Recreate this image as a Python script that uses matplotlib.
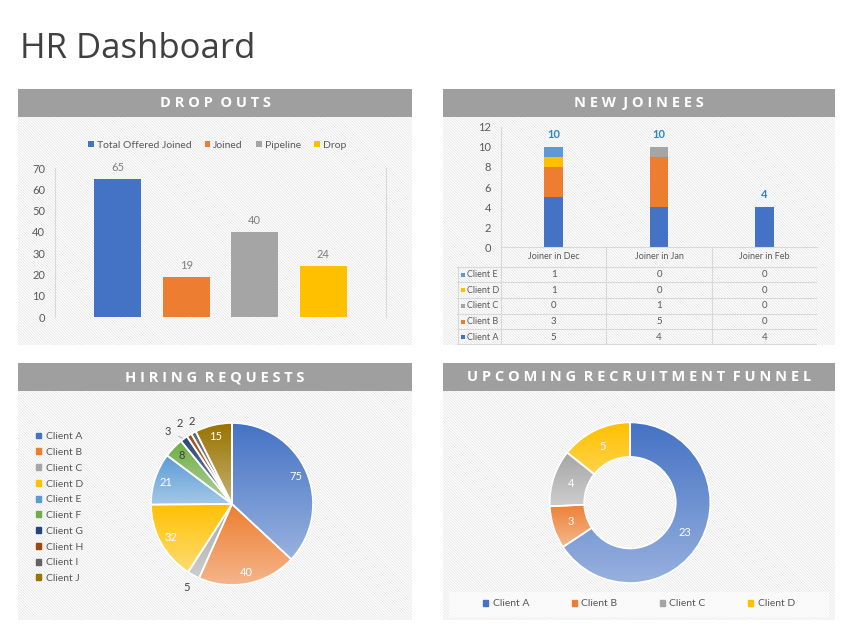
import numpy as np
import matplotlib
matplotlib.use('Agg')
import matplotlib.pyplot as plt
from matplotlib.patches import Rectangle, Patch
from matplotlib.colors import to_rgb

plt.rcParams['font.family'] = ['Lato', 'DejaVu Sans']
plt.rcParams['hatch.linewidth'] = 0.5

# 数据
drop_labels = ['Total Offered Joined', 'Joined', 'Pipeline', 'Drop']
drop_values = [65, 19, 40, 24]

joinee_months = ['Joiner in Dec', 'Joiner in Jan', 'Joiner in Feb']
joinee_clients = ['Client A', 'Client B', 'Client C', 'Client D', 'Client E']
client_a = [5, 4, 4]
client_b = [3, 5, 0]
client_c = [0, 1, 0]
client_d = [1, 0, 0]
client_e = [1, 0, 0]

hiring_labels = ['Client A', 'Client B', 'Client C', 'Client D', 'Client E',
                 'Client F', 'Client G', 'Client H', 'Client I', 'Client J']
hiring_values = [75, 40, 5, 32, 21, 8, 3, 2, 2, 15]

funnel_labels = ['Client A', 'Client B', 'Client C', 'Client D']
funnel_values = [23, 3, 4, 5]

office = ['#4472C4', '#ED7D31', '#A5A5A5', '#FFC000', '#5B9BD5',
          '#70AD47', '#264478', '#9E480E', '#636363', '#997300']
GRAY_TXT = '#595959'
W, H = 853, 640


def box(x0, y0, x1, y1):
    # 像素坐标 -> figure 坐标
    return [x0 / W, 1 - y1 / H, (x1 - x0) / W, (y1 - y0) / H]


def gradient_wedges(ax, wedges, colors, light=0.45):
    # 每个扇区上深下浅的渐变
    for w, c in zip(wedges, colors):
        v = w.get_patch_transform().transform(w.get_path().vertices)
        rgb = np.array(to_rgb(c))
        t = np.linspace(0, 1, 256)[:, None]
        img = (rgb * (1 - t * light) + t * light)[:, None, :]
        im = ax.imshow(img, extent=[v[:, 0].min(), v[:, 0].max(), v[:, 1].min(), v[:, 1].max()],
                       origin='upper', aspect='auto', interpolation='bilinear', zorder=1.5)
        im.set_clip_path(w)
        w.set_facecolor('none')
        w.set_zorder(2)


fig = plt.figure(figsize=(W / 100, H / 100), dpi=100)
fig.text(20 / W, 1 - 58 / H, 'HR Dashboard', fontsize=25, family='Open Sans',
         color='#404040', va='baseline')

#面板背景和标题栏
panels = [(18, 89, 412, 345, 'DROP OUTS'), (443, 89, 835, 345, 'NEW JOINEES'),
          (18, 363, 412, 620, 'HIRING REQUESTS'), (443, 363, 835, 620, 'UPCOMING RECRUITMENT FUNNEL')]
for x0, y0, x1, y1, title in panels:
    bg = fig.add_axes(box(x0, y0 + 28, x1, y1))
    bg.add_patch(Rectangle((0, 0), 1, 1, transform=bg.transAxes, facecolor='white',
                           edgecolor='#e2e2e2', hatch='\\' * 12, linewidth=0))
    bg.axis('off')
    hd = fig.add_axes(box(x0, y0, x1, y0 + 28))
    hd.set_facecolor('#9f9f9f')
    hd.set_xticks([]); hd.set_yticks([])
    for s in hd.spines.values():
        s.set_visible(False)
    spaced = '  '.join(' '.join(word) for word in title.split(' '))
    hd.text(0.5, 0.5, spaced, ha='center', va='center', color='white', fontsize=10.5,
            fontweight='bold', family='Open Sans', transform=hd.transAxes)

#DROP OUTS 柱状图
ax1 = fig.add_axes(box(55, 168, 386, 317))
ax1.set_facecolor('none')
x = np.arange(len(drop_values))
bars = ax1.bar(x, drop_values, width=0.68, color=office[:4])
ax1.bar_label(bars, padding=4, color='#7f7f7f', fontsize=8)
ax1.set_xlim(-0.916, 3.916)
ax1.set_ylim(0, 70)
ax1.set_yticks(range(0, 71, 10))
ax1.set_xticks([])
ax1.tick_params(length=0, labelsize=8, labelcolor=GRAY_TXT, pad=7)
for k in ['top', 'bottom']:
    ax1.spines[k].set_visible(False)
for k in ['left', 'right']:
    ax1.spines[k].set_color('#d9d9d9')
    ax1.spines[k].set_linewidth(0.8)
ax1.legend(bars, drop_labels, ncol=4, loc='center', bbox_to_anchor=(0.49, 1.154),
           frameon=False, fontsize=7.5, handlelength=0.5, handleheight=0.5,
           handletextpad=0.3, columnspacing=1.3, labelcolor=GRAY_TXT)

#NEW JOINEES 堆积柱状图
ax2 = fig.add_axes(box(501, 126.7, 817, 247.3))
ax2.set_facecolor('none')
series = [client_a, client_b, client_c, client_d, client_e]
xm = np.arange(len(joinee_months))
bottom = np.zeros(len(joinee_months))
for vals, col in zip(series, office[:5]):
    ax2.bar(xm, vals, bottom=bottom, width=0.175, color=col)
    bottom += np.array(vals)
for xi, tot in zip(xm, bottom):
    ax2.annotate(f'{int(tot)}', (xi, tot), xytext=(0, 9), textcoords='offset points',
                 ha='center', va='center', fontsize=8, fontweight='bold', color='#2E86C1')
ax2.set_xlim(-0.5, 2.5)
ax2.set_ylim(0, 12)
ax2.set_yticks(range(0, 13, 2))
ax2.set_xticks([])
ax2.tick_params(length=0, labelsize=8, labelcolor=GRAY_TXT, pad=7)
for k in ['top', 'right']:
    ax2.spines[k].set_visible(False)
for k in ['left', 'bottom']:
    ax2.spines[k].set_color('#d9d9d9')
    ax2.spines[k].set_linewidth(0.8)

# 数据表
tb = fig.add_axes(box(457, 247.3, 817, 345))
tb.set_facecolor('none')
tb.set_xlim(-0.918, 2.5)
tb.set_ylim(6.25, 0)
tb.axis('off')
px = 1 / 105.2
lc = '#d9d9d9'
for xv in [-0.5, 0.5, 1.5, 2.5]:
    tb.plot([xv, xv], [0, 6.25], color=lc, lw=0.8)
tb.plot([-0.918 + px / 2] * 2, [1.25, 6.25], color=lc, lw=0.8)
for yv in [1.25, 2.25, 3.25, 4.25, 5.25, 6.2]:
    tb.plot([-0.918, 2.5], [yv, yv], color=lc, lw=0.8)
for j, m in enumerate(joinee_months):
    tb.text(j, 0.62, m, ha='center', va='center', fontsize=6.5, color=GRAY_TXT)
rows = list(zip(joinee_clients, series, office[:5]))[::-1]
for i, (name, vals, col) in enumerate(rows):
    yc = 1.75 + i
    tb.scatter([-0.918 + 6 * px], [yc], marker='s', s=9, color=col, linewidths=0)
    tb.text(-0.918 + 10 * px, yc, name, ha='left', va='center', fontsize=6.5, color=GRAY_TXT)
    for j, v in enumerate(vals):
        tb.text(j, yc, str(v), ha='center', va='center', fontsize=7, color=GRAY_TXT)

#HIRING REQUESTS 饼图
R1 = 81
ax3 = fig.add_axes(box(232 - 100, 504 - 100, 232 + 100, 504 + 100))
ax3.set_facecolor('none')
wedges, _ = ax3.pie(hiring_values, colors=office, startangle=90, counterclock=False,
                    wedgeprops=dict(edgecolor='white', linewidth=1.2))
gradient_wedges(ax3, wedges, office)
tot = sum(hiring_values)
cum = np.cumsum([0] + hiring_values[:-1])
out_r = {7: (1.185, 1.0), 8: (1.13, -2.0)}   # 两个 "2" 标签: (半径, 角度偏移)
for i, v in enumerate(hiring_values):
    mid = np.deg2rad(90 - 360 * (cum[i] + v / 2) / tot)
    if v > 5:
        col = '#404040' if i == 5 else 'white'
        ax3.text(0.86 * np.cos(mid), 0.86 * np.sin(mid), str(v), ha='center', va='center',
                 fontsize=8, color=col, zorder=4)
    elif i == 6:
        ax3.annotate(str(v), xy=(1.0 * np.cos(mid), 1.0 * np.sin(mid)),
                     xytext=(1.2 * np.cos(mid + 0.09), 1.2 * np.sin(mid + 0.09)),
                     ha='center', va='center', fontsize=8, color='#404040',
                     arrowprops=dict(arrowstyle='-', color='#a6a6a6', lw=0.6, shrinkA=4, shrinkB=1))
    else:
        r, da = out_r.get(i, (1.17, 0.0))
        a = mid + np.deg2rad(da)
        ax3.text(r * np.cos(a), r * np.sin(a), str(v), ha='center', va='center',
                 fontsize=8, color='#404040')
lim = 100 / R1
ax3.set_xlim(-lim, lim); ax3.set_ylim(-lim, lim)
ax3.set_aspect('equal')
ax3.axis('off')
handles = [Patch(color=c) for c in office]
fig.legend(handles, hiring_labels, loc='upper left', bbox_to_anchor=(31 / W, 1 - 427 / H),
           frameon=False, fontsize=7.5, handlelength=0.5, handleheight=0.5,
           handletextpad=0.4, labelspacing=0.65, labelcolor=GRAY_TXT, borderpad=0)

#UPCOMING RECRUITMENT FUNNEL 环形图
R2 = 80.3
band = fig.add_axes(box(449, 592, 829, 617))
band.add_patch(Rectangle((0, 0), 1, 1, transform=band.transAxes, facecolor='white', alpha=0.5, lw=0))
band.axis('off')
ax4 = fig.add_axes(box(630 - 100, 502.7 - 100, 630 + 100, 502.7 + 100))
ax4.set_facecolor('none')
dw, _ = ax4.pie(funnel_values, colors=office[:4], startangle=90, counterclock=False,
                wedgeprops=dict(width=0.43, edgecolor='white', linewidth=1.2))
gradient_wedges(ax4, dw, office[:4])
tot2 = sum(funnel_values)
cum2 = np.cumsum([0] + funnel_values[:-1])
for i, v in enumerate(funnel_values):
    mid = np.deg2rad(90 - 360 * (cum2[i] + v / 2) / tot2)
    ax4.text(0.775 * np.cos(mid), 0.775 * np.sin(mid), str(v), ha='center', va='center',
             fontsize=8, color='white', zorder=4)
lim = 100 / R2
ax4.set_xlim(-lim, lim); ax4.set_ylim(-lim, lim)
ax4.set_aspect('equal')
ax4.axis('off')
fig.legend([Patch(color=c) for c in office[:4]], funnel_labels, loc='center',
           bbox_to_anchor=(639 / W, 1 - 604 / H), ncol=4, frameon=False, fontsize=7.5,
           handlelength=0.5, handleheight=0.5, handletextpad=0.4, columnspacing=4.1,
           labelcolor=GRAY_TXT)

plt.savefig('out.png', dpi=100)
